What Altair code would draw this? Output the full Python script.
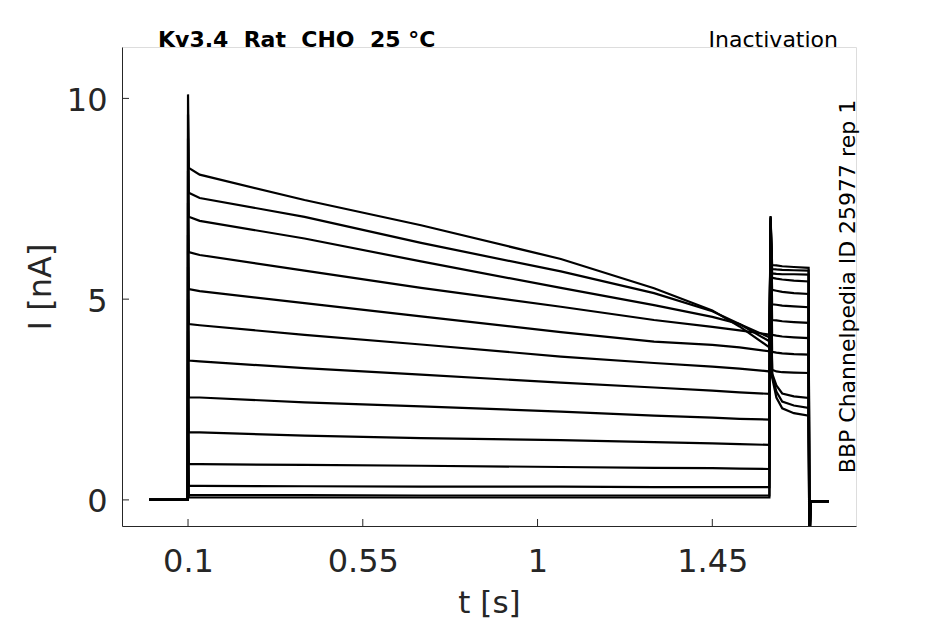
import altair as alt
import pandas as pd

# ---- data ----
N_TRACES = 13
PRE_T = [0.102, 0.13, 0.4, 0.7, 1.06, 1.3, 1.45, 1.52, 1.597]
PRE_VALUES = [
    [0.06, 0.06, 0.06, 0.06, 0.06, 0.06, 0.06, 0.06, 0.06],
    [0.12, 0.12, 0.12, 0.11, 0.11, 0.11, 0.11, 0.11, 0.11],
    [0.35, 0.35, 0.34, 0.33, 0.33, 0.32, 0.32, 0.32, 0.32],
    [0.89, 0.89, 0.87, 0.85, 0.82, 0.80, 0.79, 0.78, 0.77],
    [1.68, 1.68, 1.60, 1.54, 1.49, 1.44, 1.41, 1.39, 1.37],
    [2.55, 2.55, 2.43, 2.33, 2.20, 2.10, 2.05, 2.02, 2.00],
    [3.47, 3.45, 3.28, 3.12, 2.92, 2.80, 2.72, 2.68, 2.64],
    [4.38, 4.35, 4.11, 3.87, 3.57, 3.41, 3.32, 3.27, 3.20],
    [5.25, 5.20, 4.90, 4.57, 4.18, 3.94, 3.86, 3.80, 3.70],
    [6.17, 6.10, 5.71, 5.28, 4.81, 4.48, 4.31, 4.22, 4.12],
    [7.05, 6.95, 6.51, 5.94, 5.28, 4.85, 4.56, 4.38, 4.05],
    [7.65, 7.52, 7.05, 6.40, 5.69, 5.15, 4.70, 4.38, 3.95],
    [8.27, 8.10, 7.47, 6.84, 6.00, 5.27, 4.72, 4.32, 3.80],
]
TEST_T = [1.604, 1.615, 1.63, 1.66, 1.698]
TEST_VALUES = [
    [5.85, 5.84, 5.82, 5.80, 5.78],
    [5.75, 5.74, 5.73, 5.72, 5.71],
    [5.64, 5.63, 5.62, 5.62, 5.61],
    [5.53, 5.51, 5.49, 5.46, 5.44],
    [5.23, 5.21, 5.18, 5.15, 5.13],
    [4.87, 4.86, 4.84, 4.82, 4.80],
    [4.48, 4.47, 4.45, 4.43, 4.41],
    [4.11, 4.09, 4.07, 4.05, 4.03],
    [3.69, 3.67, 3.65, 3.63, 3.62],
    [3.24, 3.20, 3.18, 3.17, 3.16],
    [3.15, 2.85, 2.65, 2.58, 2.54],
    [3.10, 2.70, 2.45, 2.35, 2.29],
    [3.05, 2.55, 2.28, 2.16, 2.10],
]
BASE_T = [0.0, 0.0995]
BASE_LEVEL = [0.0, 0.0, 0.0, 0.0, 0.0, 0.0, 0.0, 0.0, 0.0, 0.0, 0.0, 0.0, 0.0]
ONSET_T = 0.1
ONSET_SPIKE = [1.0, 1.8, 2.6, 3.4, 4.2, 5.0, 5.8, 6.6, 7.4, 8.2, 9.0, 9.6, 10.1]
TEST_ON_T = 1.6
TEST_SPIKE = [7.07, 7.05, 7.03, 7.0, 6.95, 6.9, 6.85, 6.8, 6.75, 6.7, 6.65, 6.6, 6.55]
TAIL_T = [1.7, 1.7025, 1.75]
TAIL_SPIKE = [-1.5] * N_TRACES
TAIL_LEVEL = [-0.03] * N_TRACES

X_TICKS = [0.1, 0.55, 1, 1.45]
X_TICK_LABELS = ["0.1", "0.55", "1", "1.45"]
Y_TICKS = [0, 5, 10]
TITLE_LEFT = "Kv3.4  Rat  CHO  25 °C"
TITLE_RIGHT = "Inactivation"
SIDE_NOTE = "BBP Channelpedia ID 25977 rep 1"

# ---- build table ----
rows = []
for i in range(N_TRACES):
    pts = [(t, BASE_LEVEL[i]) for t in BASE_T]
    pts.append((ONSET_T, ONSET_SPIKE[i]))
    pts += list(zip(PRE_T, PRE_VALUES[i]))
    pts.append((TEST_ON_T, TEST_SPIKE[i]))
    pts += list(zip(TEST_T, TEST_VALUES[i]))
    pts.append((TAIL_T[0], TAIL_SPIKE[i]))
    pts += [(TAIL_T[1], TAIL_LEVEL[i]), (TAIL_T[2], TAIL_LEVEL[i])]
    for k, (t, v) in enumerate(pts):
        rows.append({"trace": i, "idx": k, "t": t, "I": v})
df = pd.DataFrame(rows)

x_label_expr = " : ".join(
    f"abs(datum.value - {v}) < 1e-6 ? '{s}'" for v, s in zip(X_TICKS, X_TICK_LABELS)
) + " : ''"

W, H = 734, 479
FONT = "DejaVu Sans"
AX = "#262626"

xscale = alt.Scale(domain=[-0.07, 1.82], nice=False, zero=False)
yscale = alt.Scale(domain=[-0.65, 11.28], nice=False, zero=False)

lines = alt.Chart(df).mark_line(color="black", strokeWidth=2.2, clip=True).encode(
    x=alt.X("t:Q", scale=xscale,
            axis=alt.Axis(values=X_TICKS, labelExpr=x_label_expr, title="t [s]",
                          ticks=False, tickSize=0, grid=False,
                          labelFontSize=32, labelFont=FONT, labelColor=AX,
                          labelPadding=20, domainColor=AX, domainWidth=1,
                          titleFont=FONT, titleFontSize=31, titleFontWeight="normal",
                          titleColor=AX, titleY=86, titleBaseline="alphabetic")),
    y=alt.Y("I:Q", scale=yscale,
            axis=alt.Axis(values=Y_TICKS, format="d", title="I [nA]",
                          ticks=False, tickSize=0, grid=False,
                          labelFontSize=32, labelFont=FONT, labelColor=AX,
                          labelPadding=15, labelOffset=2, domainColor=AX, domainWidth=1,
                          titleFont=FONT, titleFontSize=32, titleFontWeight="normal",
                          titleColor=AX, titleX=-72, titleY=H / 2,
                          titleBaseline="alphabetic", titleAngle=270)),
    detail="trace:N",
    order="idx:Q",
)

ytick_df = pd.DataFrame({"v": Y_TICKS})
xtick_df = pd.DataFrame({"v": X_TICKS})
yticks = alt.Chart(ytick_df).mark_rule(color=AX, strokeWidth=1).encode(
    y=alt.Y("v:Q", scale=yscale), x=alt.value(0), x2=alt.value(7))
xticks = alt.Chart(xtick_df).mark_rule(color=AX, strokeWidth=1).encode(
    x=alt.X("v:Q", scale=xscale), y=alt.value(H), y2=alt.value(H - 7))

# keep the double spaces visible in SVG
title_left_svg = TITLE_LEFT.replace("  ", " \u00a0")
txt_df = pd.DataFrame({"a": [title_left_svg], "b": [TITLE_RIGHT], "c": [SIDE_NOTE]})
t_left = alt.Chart(txt_df).mark_text(font=FONT, fontSize=22, fontWeight="bold",
                                     align="left", baseline="alphabetic", color="black").encode(
    text="a:N", x=alt.value(36), y=alt.value(0))
t_right = alt.Chart(txt_df).mark_text(font=FONT, fontSize=22, align="right",
                                      baseline="alphabetic", color="black").encode(
    text="b:N", x=alt.value(716), y=alt.value(0))
t_side = alt.Chart(txt_df).mark_text(font=FONT, fontSize=22, align="center",
                                     baseline="alphabetic", angle=270, color="black").encode(
    text="c:N", x=alt.value(733), y=alt.value(H / 2))

chart = alt.layer(lines, yticks, xticks, t_left, t_right, t_side).properties(
    width=W, height=H,
    autosize=alt.AutoSizeParams(type="none"),
    padding={"left": 114, "top": 39, "right": 75, "bottom": 94},
).configure_view(stroke=None).configure(background="white")

chart.save("out.html", embed_options={"renderer": "svg", "actions": False})
